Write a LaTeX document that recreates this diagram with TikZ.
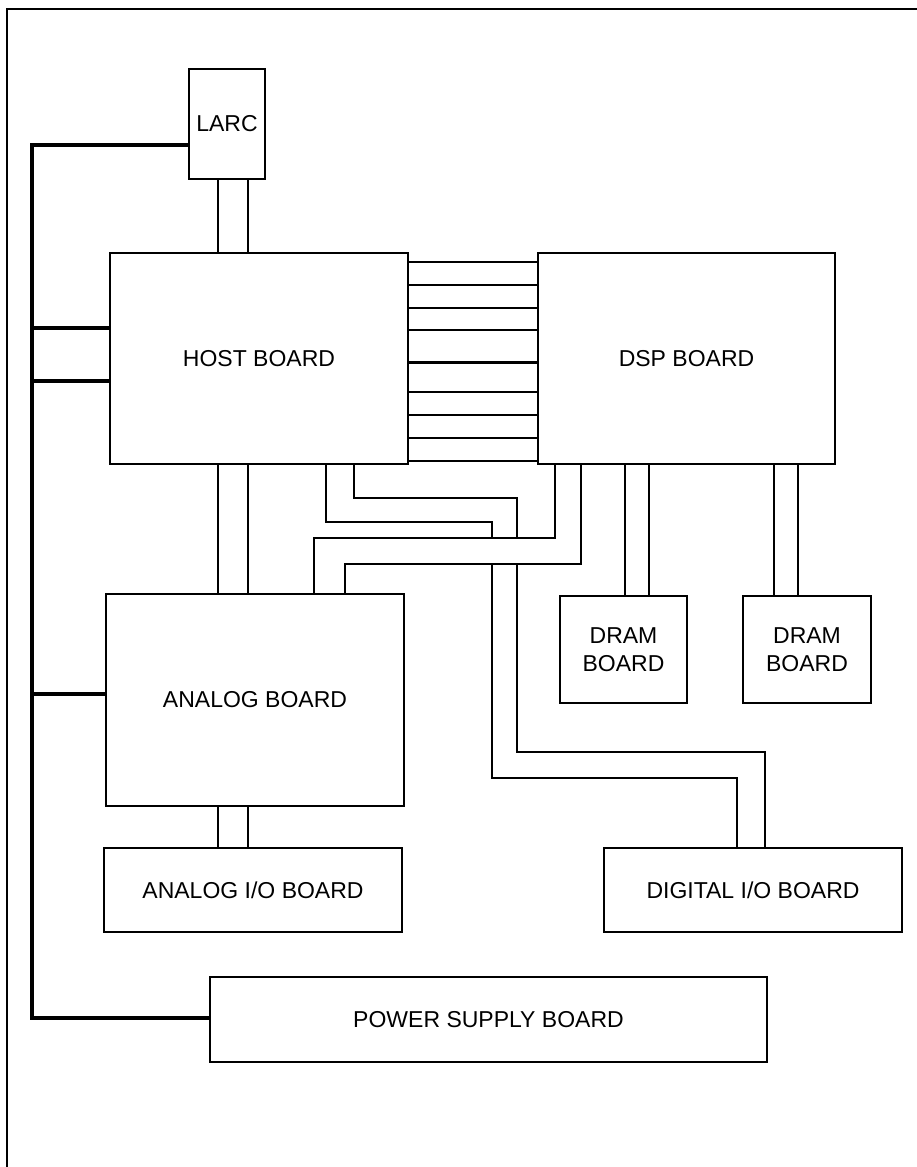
\documentclass[tikz,border=0pt]{standalone}
\usepackage{fontspec}
\setmainfont{Liberation Sans}
\usetikzlibrary{calc}

\begin{document}
\begin{tikzpicture}[x=1pt,y=-1pt,
  board/.style={draw,line width=1.6pt,inner sep=0pt,align=center,
    font=\fontsize{23}{28}\selectfont},
  wire/.style={line width=1.6pt},
  bus/.style={line width=4pt}]
\useasboundingbox (0,0) rectangle (917,1167);
\draw[line width=2pt] (7,1167) -- (7,9) -- (917,9);

\node[board,minimum width=76pt,minimum height=110pt] (larc) at (227,124) {LARC};
\node[board,minimum width=298pt,minimum height=211pt] (host) at (259,358.5) {HOST BOARD};
\node[board,minimum width=297pt,minimum height=211pt] (dsp) at (686.5,358.5) {DSP BOARD};
\node[board,minimum width=298pt,minimum height=212pt] (analog) at (255,700) {ANALOG BOARD};
\node[board,minimum width=127pt,minimum height=107pt] (drama) at (623.5,649.5) {DRAM\\BOARD};
\node[board,minimum width=128pt,minimum height=107pt] (dramb) at (807,649.5) {DRAM\\BOARD};
\node[board,minimum width=298pt,minimum height=84pt] (anaio) at (253,890) {ANALOG I/O BOARD};
\node[board,minimum width=298pt,minimum height=84pt] (digio) at (753,890) {DIGITAL I/O BOARD};
\node[board,minimum width=557pt,minimum height=85pt] (power) at (488.5,1019.5) {POWER SUPPLY BOARD};

\foreach \x in {218,248} {
  \draw[wire] (larc.south -| \x,0) -- (host.north -| \x,0);
  \draw[wire] (host.south -| \x,0) -- (analog.north -| \x,0);
  \draw[wire] (analog.south -| \x,0) -- (anaio.north -| \x,0);
}
\foreach \x in {625,649} \draw[wire] (dsp.south -| \x,0) -- (drama.north -| \x,0);
\foreach \x in {774,798} \draw[wire] (dsp.south -| \x,0) -- (dramb.north -| \x,0);

\foreach \y in {262,285,308,330,392,415,438,461}
  \draw[wire] (host.east |- 0,\y) -- (dsp.west |- 0,\y);
\draw[line width=3pt] (host.east |- 0,362) -- (dsp.west |- 0,362);

\draw[wire] (analog.north -| 314,0) |- (555,538) -- (dsp.south -| 555,0);
\draw[wire] (analog.north -| 345,0) |- (581,564) -- (dsp.south -| 581,0);
\draw[wire] (host.south -| 326,0) |- (492,522) -- (492,538);
\draw[wire] (host.south -| 354,0) |- (517,498) -- (517,538);
\draw[wire] (492,564) |- (737,778) -- (digio.north -| 737,0);
\draw[wire] (517,564) |- (765,752) -- (digio.north -| 765,0);

\coordinate (bustop) at (32,145);
\coordinate (busbot) at (32,1018);
\draw[bus] (larc.west |- bustop) -- (bustop) -- (busbot) -- (power.west |- busbot);
\draw[bus] (bustop |- 0,328) -- (host.west |- 0,328);
\draw[bus] (bustop |- 0,381) -- (host.west |- 0,381);
\draw[bus] (bustop |- 0,694) -- (analog.west |- 0,694);
\end{tikzpicture}
\end{document}
